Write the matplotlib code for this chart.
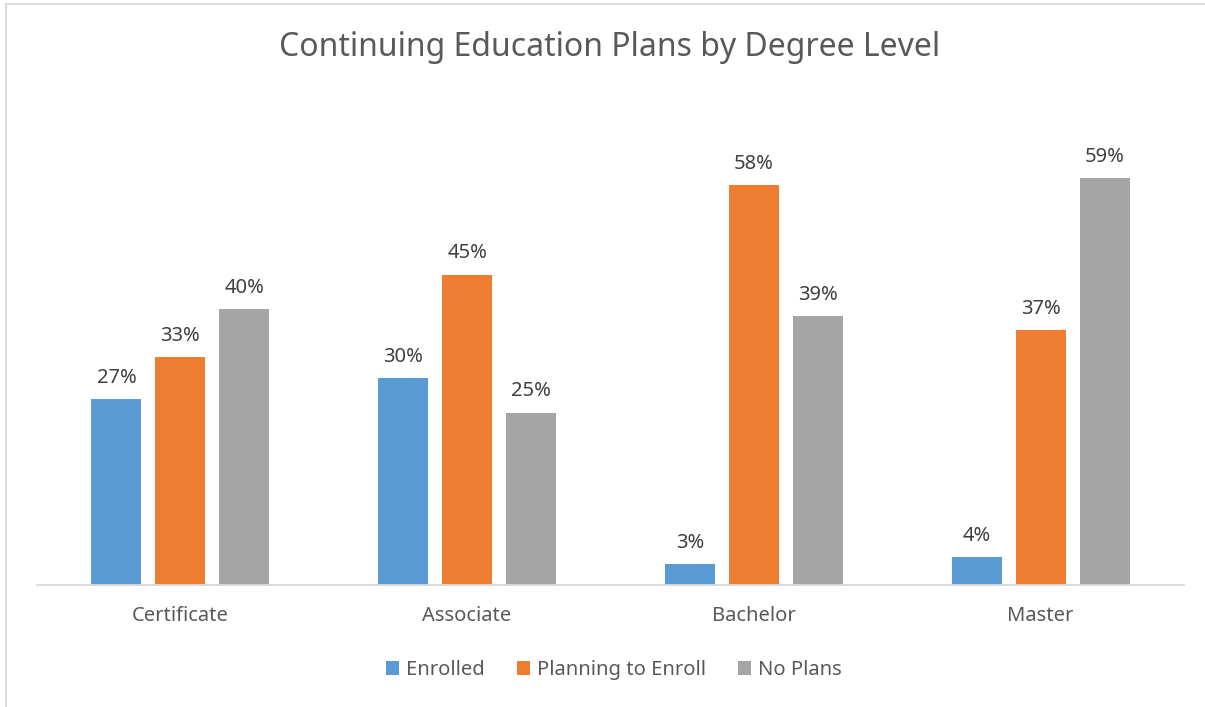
import numpy as np
import matplotlib
matplotlib.use('Agg')
import matplotlib.pyplot as plt
from matplotlib.patches import Rectangle

plt.rcParams['font.family'] = ['Noto Sans', 'DejaVu Sans']

categories = ['Certificate', 'Associate', 'Bachelor', 'Master']
series = ['Enrolled', 'Planning to Enroll', 'No Plans']
enrolled = [27, 30, 3, 4]
planning = [33, 45, 58, 37]
no_plans = [40, 25, 39, 59]
colors = ['#5B9BD5', '#ED7D31', '#A5A5A5']

txt = '#595959'
fig = plt.figure(figsize=(12.05, 7.07), dpi=100)
ax = fig.add_axes([37/1205, 1-585/707, (1184-37)/1205, (585-102)/707])

# chart frame
fig.patches.append(Rectangle((6/1205, -0.01), 1.05, 1-4/707+0.01, transform=fig.transFigure,
                             fill=False, edgecolor='#D9D9D9', linewidth=1.3))

x = np.arange(len(categories))
w = 50/286.75
step = 64/286.75
for k, vals in enumerate([enrolled, planning, no_plans]):
    pos = x + (k-1)*step
    bars = ax.bar(pos, vals, w, color=colors[k], label=series[k])
    for p, v in zip(pos, vals):
        ax.annotate(f'{v}%', (p, v), xytext=(0, 8), textcoords='offset points',
                    ha='center', va='bottom', fontsize=14.5, color='#404040')

ax.set_xlim(-0.5, len(categories)-0.5)
ax.set_ylim(0, 70)
ax.set_yticks([])
ax.set_xticks(x)
ax.set_xticklabels(categories, fontsize=14.5, color=txt)
ax.tick_params(axis='x', length=0, pad=15)
for s in ['top', 'right', 'left']:
    ax.spines[s].set_visible(False)
ax.spines['bottom'].set_color('#D9D9D9')
ax.spines['bottom'].set_linewidth(1.3)

fig.text(610/1205, 1-48/707, 'Continuing Education Plans by Degree Level',
         ha='center', va='center', fontsize=23, color=txt)

leg = fig.legend(loc='center', bbox_to_anchor=(614/1205, 1-670/707), ncol=3,
                 frameon=False, fontsize=14.5, handlelength=0.65, handleheight=0.65,
                 handletextpad=0.35, columnspacing=1.6)
for t in leg.get_texts():
    t.set_color(txt)

fig.savefig('out.png', dpi=100)
